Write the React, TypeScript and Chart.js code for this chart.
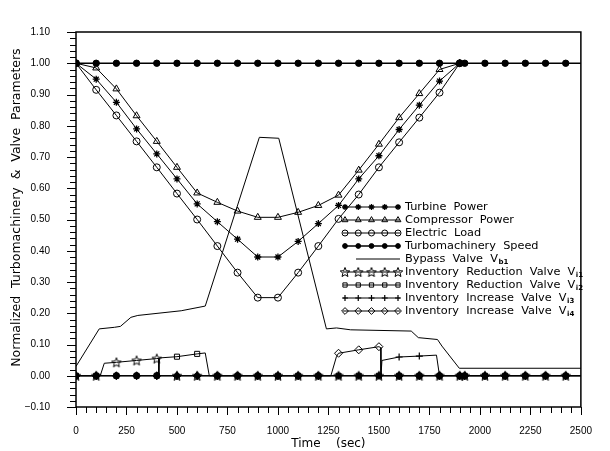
import { useEffect, useRef } from 'react';
import { Chart, registerables } from 'chart.js';
import { drawPoint } from 'chart.js/helpers';

Chart.register(...registerables);

// ---------------- data ----------------
const baseTime = [0, 100, 200, 300, 400, 500, 600, 700, 800, 900, 1000, 1100, 1200, 1300, 1400, 1500, 1600, 1700, 1800, 1900];
const turbinePower = [1.0, 0.949, 0.875, 0.79, 0.71, 0.63, 0.55, 0.493, 0.437, 0.38, 0.38, 0.43, 0.487, 0.545, 0.63, 0.704, 0.788, 0.866, 0.943, 1.0];
const compressorPower = [1.0, 0.985, 0.918, 0.832, 0.75, 0.667, 0.585, 0.555, 0.527, 0.507, 0.507, 0.523, 0.545, 0.578, 0.658, 0.741, 0.826, 0.903, 0.98, 1.0];
const electricLoad = [1.0, 0.915, 0.833, 0.75, 0.667, 0.583, 0.5, 0.415, 0.33, 0.25, 0.25, 0.33, 0.415, 0.502, 0.58, 0.667, 0.747, 0.826, 0.906, 1.0];

const speedTime = [0, 100, 200, 300, 400, 500, 600, 700, 800, 900, 1000, 1100, 1200, 1300, 1400, 1500, 1600, 1700, 1800, 1900, 1925, 2025, 2125, 2225, 2325, 2425, 2500];
const speedValue = [1, 1, 1, 1, 1, 1, 1, 1, 1, 1, 1, 1, 1, 1, 1, 1, 1, 1, 1, 1, 1, 1, 1, 1, 1, 1, 1];

const bypassTime = [0, 115, 190, 220, 272, 306, 521, 640, 908, 1004, 1240, 1290, 1360, 1660, 1695, 1790, 1812, 1898, 2500];
const bypassValue = [0.03, 0.15, 0.155, 0.158, 0.187, 0.193, 0.208, 0.223, 0.763, 0.76, 0.15, 0.153, 0.147, 0.143, 0.122, 0.116, 0.095, 0.024, 0.024];

const vi1Time = [0, 100, 120, 140, 200, 300, 400, 410, 410, 500, 600, 700, 800, 900, 1000, 1100, 1200, 1300, 1400, 1500, 1600, 1700, 1800, 1900, 1925, 2025, 2125, 2225, 2325, 2425, 2500];
const vi1Value = [0, 0, 0, 0.04, 0.043, 0.049, 0.055, 0.056, 0, 0, 0, 0, 0, 0, 0, 0, 0, 0, 0, 0, 0, 0, 0, 0, 0, 0, 0, 0, 0, 0, 0];

const vi2Time = [0, 100, 200, 300, 400, 410, 412, 500, 600, 640, 660, 700, 800, 900, 1000, 1100, 1200, 1300, 1400, 1500, 1600, 1700, 1800, 1900, 1925, 2025, 2125, 2225, 2325, 2425, 2500];
const vi2Value = [0, 0, 0, 0, 0, 0, 0.057, 0.061, 0.07, 0.073, 0, 0, 0, 0, 0, 0, 0, 0, 0, 0, 0, 0, 0, 0, 0, 0, 0, 0, 0, 0, 0];

const vi3Time = [0, 100, 200, 300, 400, 500, 600, 700, 800, 900, 1000, 1100, 1200, 1300, 1400, 1500, 1510, 1515, 1600, 1700, 1785, 1800, 1900, 1925, 2025, 2125, 2225, 2325, 2425, 2500];
const vi3Value = [0, 0, 0, 0, 0, 0, 0, 0, 0, 0, 0, 0, 0, 0, 0, 0, 0, 0.049, 0.06, 0.063, 0.066, 0, 0, 0, 0, 0, 0, 0, 0, 0];

const vi4Time = [0, 100, 200, 300, 400, 500, 600, 700, 800, 900, 1000, 1100, 1200, 1262, 1290, 1300, 1400, 1500, 1509, 1510, 1600, 1700, 1800, 1900, 1925, 2025, 2125, 2225, 2325, 2425, 2500];
const vi4Value = [0, 0, 0, 0, 0, 0, 0, 0, 0, 0, 0, 0, 0, 0, 0.062, 0.072, 0.083, 0.093, 0.09, 0, 0, 0, 0, 0, 0, 0, 0, 0, 0, 0, 0];

const xTicks = [0, 250, 500, 750, 1000, 1250, 1500, 1750, 2000, 2250, 2500];
const yTicks = [-0.1, 0, 0.1, 0.2, 0.3, 0.4, 0.5, 0.6, 0.7, 0.8, 0.9, 1.0, 1.1];

const seriesLabels = [
  'Turbine  Power',
  'Compressor  Power',
  'Electric  Load',
  'Turbomachinery  Speed',
  'Bypass  Valve  V',
  'Inventory  Reduction  Valve  V',
  'Inventory  Reduction  Valve  V',
  'Inventory  Increase  Valve  V',
  'Inventory  Increase  Valve  V',
];
const seriesSubs = ['', '', '', '', 'b1', 'i1', 'i2', 'i3', 'i4'];

// ---------------- helpers ----------------
const mk = (t: number[], v: number[]) => t.map((x, i) => ({ x, y: v[i] }));
const showMarker = (x: number) =>
  (x <= 1900 && x % 100 === 0) || (x > 1900 && x < 2500 && x % 100 === 25);

function makeStar5(): HTMLCanvasElement {
  const c = document.createElement('canvas');
  c.width = 12;
  c.height = 12;
  const g = c.getContext('2d')!;
  g.strokeStyle = '#000';
  g.lineWidth = 1;
  g.beginPath();
  for (let i = 0; i < 10; i++) {
    const r = i % 2 === 0 ? 5 : 2.2;
    const a = -Math.PI / 2 + (i * Math.PI) / 5;
    const px = 6 + r * Math.cos(a);
    const py = 6.5 + r * Math.sin(a);
    if (i === 0) g.moveTo(px, py);
    else g.lineTo(px, py);
  }
  g.closePath();
  g.stroke();
  return c;
}

export default function App() {
  const ref = useRef<HTMLCanvasElement>(null);

  useEffect(() => {
    const star5 = makeStar5();
    const styles: any[] = [
      { ps: 'star', r: 3.5, fill: 'rgba(0,0,0,0)', pbw: 1.3, lw: 1, lr: 3 },
      { ps: 'triangle', r: 4, fill: 'rgba(0,0,0,0)', pbw: 1, lw: 1, lr: 3.4 },
      { ps: 'circle', r: 3.5, fill: 'rgba(0,0,0,0)', pbw: 1, lw: 1, lr: 3 },
      { ps: 'circle', r: 3.2, fill: '#000', pbw: 1, lw: 1.6, lr: 2.4 },
      { ps: false, r: 0, fill: '#000', pbw: 0, lw: 1, lr: 0 },
      { ps: star5, r: 4, fill: 'rgba(0,0,0,0)', pbw: 1, lw: 1, lr: 3 },
      { ps: 'rect', r: 3.6, fill: 'rgba(0,0,0,0)', pbw: 1, lw: 1, lr: 3 },
      { ps: 'cross', r: 3.5, fill: 'rgba(0,0,0,0)', pbw: 1.2, lw: 1, lr: 3 },
      { ps: 'rectRot', r: 4, fill: 'rgba(0,0,0,0)', pbw: 1, lw: 1, lr: 3.4 },
    ];
    const seriesData = [
      mk(baseTime, turbinePower),
      mk(baseTime, compressorPower),
      mk(baseTime, electricLoad),
      mk(speedTime, speedValue),
      mk(bypassTime, bypassValue),
      mk(vi1Time, vi1Value),
      mk(vi2Time, vi2Value),
      mk(vi3Time, vi3Value),
      mk(vi4Time, vi4Value),
    ];

    const datasets = seriesData.map((d, i) => {
      const s = styles[i];
      const isValve = i >= 5;
      return {
        label: seriesLabels[i] + seriesSubs[i],
        data: d,
        borderColor: '#000',
        backgroundColor: s.fill,
        borderWidth: s.lw,
        pointStyle: s.ps === false ? 'circle' : s.ps,
        pointBackgroundColor: (ctx: any) => (isValve && ctx.raw && ctx.raw.y === 0 ? '#000' : s.fill),
        pointBorderColor: '#000',
        pointBorderWidth: s.pbw,
        pointRadius: (ctx: any) => (s.ps !== false && ctx.raw && showMarker(ctx.raw.x) ? s.r : 0),
        pointHoverRadius: 0,
        tension: 0,
        fill: false,
        order: i === 3 ? -1 : i,
      };
    });

    const framePlugin = {
      id: 'frameTicks',
      afterDraw(chart: any) {
        const { ctx, chartArea: a, scales } = chart;
        const xs = scales.x;
        const ys = scales.y;
        ctx.save();
        ctx.strokeStyle = '#000';
        ctx.lineWidth = 1.5;
        ctx.strokeRect(a.left, a.top, a.right - a.left, a.bottom - a.top);
        ctx.lineWidth = 1;
        ctx.beginPath();
        for (let v = 0; v <= 2500; v += 50) {
          const px = Math.round(xs.getPixelForValue(v)) + 0.5;
          const len = v % 250 === 0 ? 8 : 6;
          ctx.moveTo(px, a.bottom);
          ctx.lineTo(px, a.bottom + len);
        }
        for (let k = -5; k <= 55; k++) {
          const v = k * 0.02;
          const py = Math.round(ys.getPixelForValue(v)) + 0.5;
          const len = k % 5 === 0 ? 9 : 6;
          ctx.moveTo(a.left, py);
          ctx.lineTo(a.left - len, py);
        }
        ctx.stroke();
        ctx.restore();
      },
    };

    const legendPlugin = {
      id: 'paperLegend',
      afterDraw(chart: any) {
        const ctx = chart.ctx;
        const x0 = 343;
        const x1 = 400;
        const tx = 405;
        const y0 = 207;
        const dy = 13;
        ctx.save();
        seriesLabels.forEach((lab, i) => {
          const s = styles[i];
          const y = y0 + i * dy;
          ctx.strokeStyle = '#000';
          ctx.lineWidth = s.lw;
          ctx.beginPath();
          ctx.moveTo(s.ps === false ? 356 : x0, y);
          ctx.lineTo(x1, y);
          ctx.stroke();
          if (s.ps !== false) {
            for (let k = 0; k < 5; k++) {
              const px = x0 + 2 + (k * (x1 - x0 - 4)) / 4;
              ctx.fillStyle = s.fill;
              ctx.strokeStyle = '#000';
              ctx.lineWidth = s.pbw;
              drawPoint(ctx, { pointStyle: s.ps, radius: s.lr, rotation: 0, borderWidth: s.pbw }, px, y);
            }
          }
          ctx.fillStyle = '#000';
          ctx.textBaseline = 'middle';
          ctx.textAlign = 'left';
          ctx.font = '11.3px "DejaVu Sans"';
          ctx.fillText(lab, tx, y);
          if (seriesSubs[i]) {
            const w = ctx.measureText(lab).width;
            ctx.font = 'bold 7px "DejaVu Sans"';
            ctx.fillText(seriesSubs[i], tx + w + 0.5, y + 3);
          }
        });
        ctx.restore();
      },
    };

    const chart = new Chart(ref.current!, {
      type: 'line',
      data: { datasets },
      options: {
        animation: false,
        responsive: false,
        events: [],
        layout: { padding: { top: 15, right: 11, left: 0, bottom: 0 } },
        plugins: { legend: { display: false }, tooltip: { enabled: false } },
        scales: {
          x: {
            type: 'linear',
            min: 0,
            max: 2500,
            grid: { display: false, drawTicks: false },
            border: { display: false },
            afterBuildTicks: (sc: any) => {
              sc.ticks = xTicks.map((v) => ({ value: v }));
            },
            afterFit: (sc: any) => {
              sc.height = 44;
            },
            ticks: {
              padding: 18,
              color: '#000',
              maxRotation: 0,
              autoSkip: false,
              font: { family: '"Liberation Sans"', size: 10 },
              callback: (v: any) => String(v),
            },
            title: {
              display: true,
              text: 'Time    (sec)',
              color: '#000',
              font: { family: '"DejaVu Sans"', size: 12 },
              padding: { top: 0, bottom: 0 },
            },
          },
          y: {
            type: 'linear',
            min: -0.1,
            max: 1.1,
            grid: { display: false, drawTicks: false },
            border: { display: false },
            afterBuildTicks: (sc: any) => {
              sc.ticks = yTicks.map((v) => ({ value: v }));
            },
            afterFit: (sc: any) => {
              sc.width = 76;
            },
            ticks: {
              padding: 26,
              color: '#000',
              autoSkip: false,
              font: { family: '"Liberation Sans"', size: 10 },
              callback: (v: any) => {
                const n = Math.round(Number(v) * 100) / 100;
                return n < 0 ? '\u2212' + Math.abs(n).toFixed(2) : n.toFixed(2);
              },
            },
            title: {
              display: true,
              text: '      Normalized  Turbomachinery  &  Valve  Parameters',
              color: '#000',
              font: { family: '"DejaVu Sans"', size: 12.5 },
              padding: { top: 9, bottom: 0 },
            },
          },
        },
      },
      plugins: [framePlugin, legendPlugin],
    } as any);

    return () => chart.destroy();
  }, []);

  return (
    <div style={{ position: 'absolute', left: 0, top: 0, width: 610, height: 451, background: '#fff' }}>
      <canvas ref={ref} width={610} height={451} />
    </div>
  );
}
